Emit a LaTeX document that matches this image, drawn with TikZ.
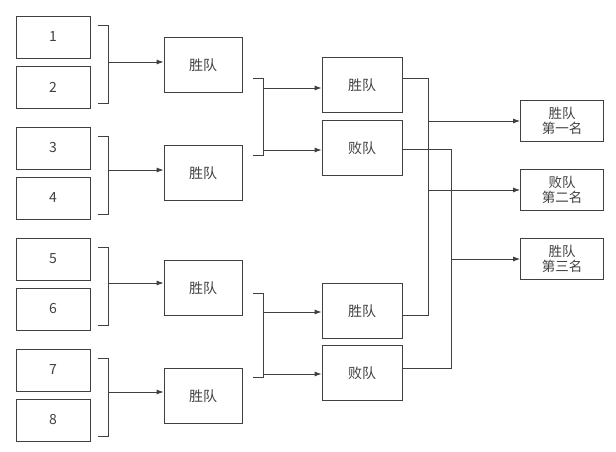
\documentclass[tikz,border=0pt]{standalone}
\usepackage{fontspec}
\setmainfont{Noto Sans CJK SC}
\usetikzlibrary{arrows.meta}
\begin{document}
\begin{tikzpicture}[x=1pt,y=-1pt,
  box/.style={draw=black!75,line width=0.8pt,minimum width=74pt,minimum height=42pt,inner sep=0pt,font=\fontsize{14}{16}\selectfont,text=black!75},
  win/.style={box,minimum width=78pt,minimum height=55pt},
  fin/.style={box,minimum width=83pt,minimum height=41pt,align=center,font=\fontsize{13.5}{15.5}\selectfont},
  ln/.style={draw=black!75,line width=0.8pt},
  ar/.style={ln,-{Latex[length=7pt,width=5pt]}}]
\useasboundingbox (0,0) rectangle (616,452);
\foreach \i/\y in {1/37,2/87,3/148,4/198,5/259,6/309,7/370,8/420}
  \node[box] (t\i) at (53,\y) {\i};
\node[win] (w1) at (203,65) {胜队};
\node[win] (w2) at (203,173) {胜队};
\node[win] (w3) at (203,288) {胜队};
\node[win] (w4) at (203,396) {胜队};
\foreach \a/\b/\w/\ya/\yb/\ym in {1/2/w1/25/103/62, 3/4/w2/136/214/170, 5/6/w3/247/325/283, 7/8/w4/358/436/392}{
  \draw[ln] (98,\ya) -- (108,\ya) -- (108,\yb) -- (98,\yb);
  \coordinate (m\w) at (108,\ym);
  \draw[ar] (m\w) -- (\w.west |- m\w);
}
\node[win,minimum width=80pt] (s1) at (362,85) {胜队};
\node[win,minimum width=80pt] (l1) at (362,148) {败队};
\node[win,minimum width=80pt] (s2) at (362,311) {胜队};
\node[win,minimum width=80pt] (l2) at (362,373) {败队};
\draw[ln] (253,78) -- (263,78) -- (263,155) -- (253,155);
\coordinate (b1) at (263,88); \coordinate (b2) at (263,150);
\draw[ar] (b1) -- (s1.west |- b1);
\draw[ar] (b2) -- (l1.west |- b2);
\draw[ln] (253,293) -- (263,293) -- (263,377) -- (253,377);
\coordinate (b3) at (263,312); \coordinate (b4) at (263,374);
\draw[ar] (b3) -- (s2.west |- b3);
\draw[ar] (b4) -- (l2.west |- b4);
\node[fin] (f1) at (562,121) {胜队\\第一名};
\node[fin] (f2) at (562,190) {败队\\第二名};
\node[fin] (f3) at (562,259) {胜队\\第三名};
\draw[ln] (s1.east |- 0,78) -- (428,78) -- (428,315) -- (s2.east |- 0,315);
\draw[ln] (l1.east |- 0,149) -- (451,149) -- (451,368) -- (l2.east |- 0,368);
\draw[ar] (428,121) -- (f1.west);
\draw[ar] (428,190) -- (f2.west);
\draw[ar] (451,259) -- (f3.west);
\end{tikzpicture}
\end{document}
